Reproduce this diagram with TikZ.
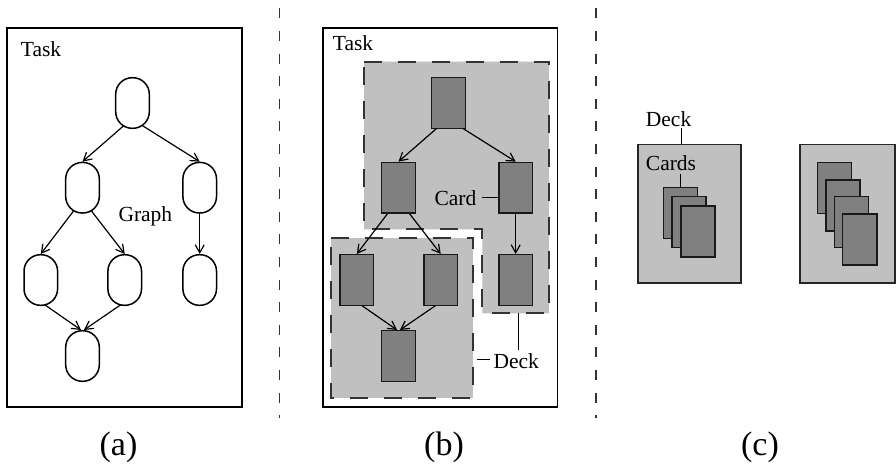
\documentclass[tikz,border=0pt]{standalone}
\usepackage{fontspec}
\setmainfont{Liberation Serif}
\usetikzlibrary{arrows.meta,calc}
\pgfdeclarelayer{decks}
\pgfdeclarelayer{links}
\pgfsetlayers{decks,links,main}
\definecolor{deckfill}{HTML}{C0C0C0}
\definecolor{cardfill}{HTML}{808080}
\definecolor{rule}{HTML}{333333}

\tikzset{
  lbl/.style={inner sep=0pt, anchor=base west, font=\fontsize{21.5}{24}\selectfont},
  caption/.style={inner sep=0pt, anchor=base, font=\fontsize{34}{38}\selectfont},
  taskbox/.style={draw=black, line width=1.6pt},
  oval/.style={draw=black, fill=white, line width=1.5pt, rounded corners=16.5pt,
    minimum width=33.6pt, minimum height=50.6pt, inner sep=0pt},
  card/.style={draw=black!90, fill=cardfill, line width=1.5pt,
    minimum width=33.6pt, minimum height=50.6pt, inner sep=0pt},
  stackcard/.style={card, minimum width=34.3pt, minimum height=51pt},
  link/.style={line width=1.2pt, -{Straight Barb[length=8pt,width=9pt]}},
  leader/.style={line width=1.4pt},
  deckzone/.style={fill=deckfill, draw=rule, line width=2pt, dash pattern=on 18pt off 16pt},
  deckbox/.style={fill=deckfill, draw=black!85, line width=1.6pt},
  separator/.style={draw=rule, line width=1.6pt, dash pattern=on 10pt off 12.6pt},
}

% task graph: #1 = x offset, #2 = node style, #3 = name prefix
\newcommand{\taskgraph}[3]{%
  \node[#2] (#31) at (#1+132.5,103) {};
  \node[#2] (#32) at (#1+82.5,187.7) {};
  \node[#2] (#33) at (#1+199.7,187.7) {};
  \node[#2] (#34) at (#1+40.8,280) {};
  \node[#2] (#35) at (#1+124.7,280) {};
  \node[#2] (#36) at (#1+199.7,280) {};
  \node[#2] (#37) at (#1+82.5,356) {};
  \begin{pgfonlayer}{links}
    \draw[link] ($(#31.south)+(-8,-4)$) -- (#32.north);
    \draw[link] ($(#31.south)+(9,-4)$) -- (#33.north);
    \draw[link] ($(#32.south)+(-8,-4)$) -- (#34.north);
    \draw[link] ($(#32.south)+(8,-4)$) -- (#35.north);
    \draw[link] ($(#33.south)+(0,-4)$) -- (#36.north);
    \draw[link] ($(#34.south)+(0,-4)$) -- ($(#37.north)+(-1.5,0)$);
    \draw[link] ($(#35.south)+(0,-4)$) -- ($(#37.north)+(1.5,0)$);
  \end{pgfonlayer}
}

\begin{document}
\begin{tikzpicture}[x=1pt,y=-1pt]
\useasboundingbox (0,0) rectangle (896,464);
\begin{pgfonlayer}{decks}
  \fill[white] (0,0) rectangle (896,464);
\end{pgfonlayer}

% separators between the three panels
\coordinate (s1t) at (279.5,8.3);
\coordinate (s1b) at (279.5,418);
\coordinate (s2t) at (596,8.3);
\coordinate (s2b) at (596,418);
\draw[separator] (s1t) -- (s1b);
\draw[separator] (s2t) -- (s2b);

% ---------- (a) task graph ----------
\draw[taskbox] (6.7,27.7) rectangle (241.7,406.7);
\node[lbl] (taska) at (20.7,56.5) {Task};
\taskgraph{0}{oval}{a}
\node[lbl] (graphlbl) at (118.3,221.5) {Graph};

% ---------- (b) graph split into decks ----------
\draw[taskbox] (322.7,27.7) rectangle (557.3,406.7);
\node[lbl] (taskb) at (332.7,50) {Task};
\begin{pgfonlayer}{decks}
  \draw[deckzone] (364,61.7) -- (549,61.7) -- (549,313.3) -- (482.3,313.3)
    -- (482.3,229.3) -- (364,229.3) -- cycle;
  \draw[deckzone] (331,237.5) -- (473.3,237.5) -- (473.3,397.7) -- (331,397.7) -- cycle;
\end{pgfonlayer}
\taskgraph{316}{card}{b}
\node[lbl] (cardlbl) at (434.3,205) {Card};
\draw[leader, shorten <=5.5pt] (cardlbl.east) -- (cardlbl.east -| b3.west);
\node[lbl] (deckb) at (493.3,368.3) {Deck};
\coordinate (upperdeck) at (518.5,313.3);
\coordinate (lowerdeck) at (477.3,359.3);
\draw[leader, shorten >=3.5pt] (upperdeck) -- (upperdeck |- deckb.north);
\draw[leader, shorten >=3pt] (lowerdeck) -- (lowerdeck -| deckb.west);

% ---------- (c) decks of cards ----------
\node[deckbox, minimum width=103pt, minimum height=138.4pt, inner sep=0pt] (deck1) at (689.2,213.5) {};
\node[deckbox, minimum width=95pt, minimum height=138.4pt, inner sep=0pt] (deck2) at (847.5,213.5) {};
\node[stackcard] (c1a) at (680.5,212.8) {};
\node[stackcard] (c1b) at (689,222.2) {};
\node[stackcard] (c1c) at (697.9,231.4) {};
\node[stackcard] (c2a) at (834.5,188) {};
\node[stackcard] (c2b) at (843,205.4) {};
\node[stackcard] (c2c) at (851.5,222.2) {};
\node[stackcard] (c2d) at (859.7,239.7) {};
\node[lbl] (deckc) at (645.7,126) {Deck};
\node[lbl] (cardsc) at (645.7,170.7) {Cards};
\coordinate (deckfoot) at (681.7,127.7);
\coordinate (cardsfoot) at (680.7,174);
\draw[leader] (deckfoot) -- (deckfoot |- deck1.north);
\draw[leader] (cardsfoot) -- (cardsfoot |- c1a.north);

% ---------- captions ----------
\node[caption] (capa) at (118.5,455) {(a)};
\node[caption] (capb) at (444,455) {(b)};
\node[caption] (capc) at (760,455) {(c)};
\end{tikzpicture}
\end{document}
